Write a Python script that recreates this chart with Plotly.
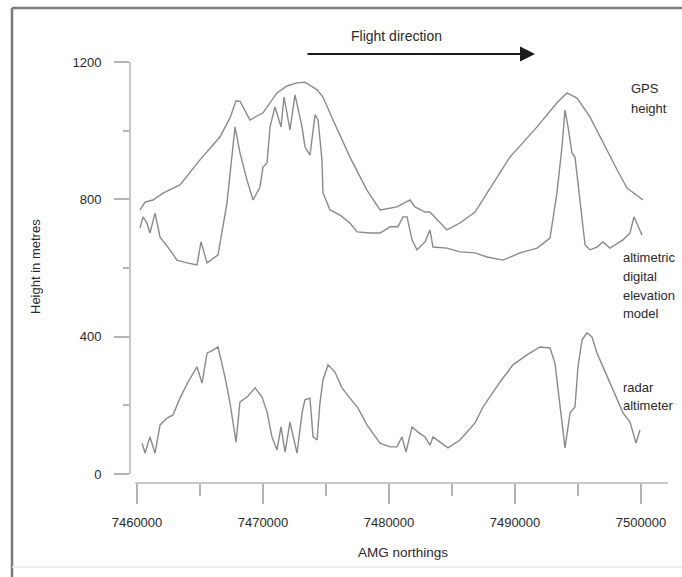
import plotly.graph_objects as go

# ---------------- data ----------------
gps_x = [7460240, 7460640, 7461270, 7462060, 7463410, 7465000, 7466590, 7467380,
         7467860, 7468180, 7468970, 7470000, 7471110, 7471900, 7472700, 7473330,
         7474290, 7474760, 7475560, 7476900, 7478250, 7479290, 7480630, 7481670,
         7482060, 7482860, 7483250, 7484600, 7485630, 7486830, 7487780, 7489600,
         7491750, 7493330, 7494130, 7494920, 7495950, 7496980, 7498100, 7498890,
         7500160]
gps_y = [769, 792, 798, 818, 842, 915, 982, 1037,
         1087, 1085, 1031, 1052, 1110, 1130, 1139, 1141,
         1119, 1098, 1031, 923, 827, 769, 778, 798,
         778, 763, 763, 711, 731, 763, 818, 923,
         1011, 1081, 1110, 1095, 1040, 964, 886, 833,
         798]

dem_x = [7460240, 7460480, 7460790, 7461030, 7461430, 7461830, 7462620, 7463170,
         7463970, 7464760, 7465080, 7465560, 7466430, 7467140, 7467780, 7468170,
         7468730, 7469210, 7469760, 7470000, 7470320, 7470560, 7470950, 7471430,
         7471670, 7472140, 7472540, 7473100, 7473330, 7473730, 7474130, 7474370,
         7474680, 7474760, 7475320, 7476110, 7476900, 7477460, 7478490, 7479290,
         7480080, 7480710, 7481110, 7481430, 7481830, 7482220, 7482860, 7483250,
         7483490, 7484600, 7485630, 7486830, 7487780, 7489050, 7490400, 7491750,
         7492780, 7493330, 7493730, 7493970, 7494210, 7494520, 7494760, 7495160,
         7495560, 7495950, 7496510, 7496980, 7497540, 7498570, 7499130, 7499440,
         7499760, 7500080]
dem_y = [717, 749, 731, 702, 760, 690, 653, 623,
         615, 609, 676, 615, 638, 789, 1011, 935,
         856, 798, 836, 894, 906, 1011, 1069, 1011,
         1098, 1002, 1104, 1011, 953, 929, 1046, 1031,
         915, 819, 769, 754, 731, 705, 702, 702,
         720, 720, 749, 749, 682, 653, 676, 711,
         661, 658, 647, 644, 632, 623, 644, 658,
         687, 819, 953, 1060, 1011, 935, 923, 789,
         667, 653, 661, 676, 658, 682, 702, 749,
         720, 696]

radar_x = [7460400, 7460640, 7461030, 7461430, 7461830, 7462380, 7462860, 7463410,
           7464050, 7464760, 7465160, 7465560, 7466030, 7466430, 7466980, 7467380,
           7467860, 7468170, 7468730, 7469370, 7469920, 7470320, 7470710, 7471110,
           7471430, 7471750, 7472140, 7472700, 7473100, 7473330, 7473730, 7473970,
           7474290, 7474520, 7474760, 7475160, 7475710, 7476270, 7476900, 7477540,
           7478250, 7479290, 7480080, 7480630, 7481030, 7481350, 7481830, 7482300,
           7482860, 7483250, 7483490, 7484050, 7484680, 7485630, 7486830, 7487460,
           7488810, 7489840, 7490950, 7491980, 7492780, 7493170, 7493570, 7493970,
           7494370, 7494760, 7495000, 7495320, 7495710, 7496110, 7496510, 7496980,
           7497780, 7498570, 7499130, 7499600, 7499920]
radar_y = [90, 61, 108, 61, 143, 163, 172, 221,
           268, 312, 265, 352, 361, 370, 283, 207,
           93, 210, 224, 251, 224, 181, 108, 70,
           137, 64, 151, 61, 178, 216, 221, 108,
           99, 207, 274, 318, 297, 251, 221, 192,
           143, 90, 79, 79, 108, 64, 137, 122,
           108, 84, 108, 93, 76, 99, 149, 195,
           268, 318, 347, 370, 367, 323, 195, 76,
           178, 195, 312, 390, 411, 399, 352, 312,
           245, 178, 151, 90, 128]

y_ticks = [0, 400, 800, 1200]
x_ticks = [7460000, 7470000, 7480000, 7490000, 7500000]

# ---------------- figure ----------------
LINE = "#8a8a8a"
AXIS = "#b4b4b4"
TEXT = "#2a2a2a"
FONT = "Liberation Sans, Arial, sans-serif"

fig = go.Figure()
for xs, ys in [(gps_x, gps_y), (dem_x, dem_y), (radar_x, radar_y)]:
    fig.add_trace(go.Scatter(x=xs, y=ys, mode="lines",
                             line=dict(color=LINE, width=1.4),
                             showlegend=False, hoverinfo="skip"))

X0, X1 = 7459444, 7502143
Y0, Y1 = -26.2, 1264

fig.update_layout(
    width=682, height=577,
    margin=dict(l=130, r=14, t=40, b=94),
    paper_bgcolor="white", plot_bgcolor="white",
    font=dict(family=FONT, size=13, color=TEXT),
    showlegend=False,
    xaxis=dict(range=[X0, X1], tickvals=x_ticks, tickformat="d",
               ticks="outside", ticklen=20, tickcolor=AXIS, tickwidth=1.5,
               minor=dict(ticks="outside", ticklen=12, tickcolor=AXIS,
                          tickwidth=1.5, dtick=5000, tick0=7460000),
               showline=False, showgrid=False, zeroline=False,
               ticklabelstandoff=7, tickfont=dict(size=13, color=TEXT)),
    yaxis=dict(range=[Y0, Y1], tickvals=y_ticks,
               ticks="outside", ticklen=15, tickcolor=AXIS, tickwidth=1.5,
               minor=dict(ticks="outside", ticklen=6, tickcolor=AXIS,
                          tickwidth=1.5, dtick=200, tick0=0),
               showline=False, showgrid=False, zeroline=False,
               ticklabelstandoff=10, tickfont=dict(size=13, color=TEXT)),
)

# detached axis lines
fig.add_shape(type="line", xref="paper", yref="y", x0=0, x1=0, y0=0, y1=1200,
              line=dict(color=AXIS, width=1.5))
fig.add_shape(type="line", xref="x", yref="paper", x0=7459850, x1=X1, y0=0, y1=0,
              line=dict(color=AXIS, width=1.5))

# outer frame of the figure
def px_x(p):
    return (p - 130) / 538.0

def px_y(p):
    return (483 - p) / 443.0

fig.add_shape(type="line", xref="paper", yref="paper",
              x0=px_x(12), x1=px_x(682), y0=px_y(8), y1=px_y(8),
              line=dict(color="#7a7a7a", width=2.5))
fig.add_shape(type="line", xref="paper", yref="paper",
              x0=px_x(12), x1=px_x(12), y0=px_y(8), y1=px_y(577),
              line=dict(color="#7a7a7a", width=2.5))
fig.add_shape(type="line", xref="paper", yref="paper",
              x0=px_x(12), x1=px_x(682), y0=px_y(567), y1=px_y(567),
              line=dict(color="#e6e6e6", width=1.5))

# flight direction arrow
fig.add_annotation(xref="paper", yref="paper", x=px_x(535), y=px_y(54),
                   ax=-229, ay=0, axref="pixel", ayref="pixel",
                   text="", showarrow=True, arrowhead=2, arrowsize=1.5,
                   arrowwidth=2, arrowcolor="#1a1a1a")

def label(text, xp, yp, **kw):
    fig.add_annotation(xref="paper", yref="paper", x=px_x(xp), y=px_y(yp),
                       text=text, showarrow=False, xanchor="left",
                       yanchor="middle", font=dict(size=13, color=TEXT), **kw)

fig.add_annotation(xref="paper", yref="paper", x=px_x(396), y=px_y(36),
                   text="Flight direction", showarrow=False,
                   xanchor="center", yanchor="middle",
                   font=dict(size=14, color=TEXT))
for t, yy in [("GPS", 88), ("height", 108)]:
    label(t, 629, yy)
for t, yy in [("altimetric", 257), ("digital", 276), ("elevation", 295), ("model", 313)]:
    label(t, 621, yy)
for t, yy in [("radar", 387), ("altimeter", 405)]:
    label(t, 621, yy)

fig.add_annotation(xref="paper", yref="paper", x=px_x(35), y=px_y(266),
                   text="Height in metres", textangle=-90, showarrow=False,
                   xanchor="center", yanchor="middle",
                   font=dict(size=13, color=TEXT))
fig.add_annotation(xref="paper", yref="paper", x=px_x(403), y=px_y(552),
                   text="AMG northings", showarrow=False,
                   xanchor="center", yanchor="middle",
                   font=dict(size=13.5, color=TEXT))

fig.write_html("out.html",
               config={"displayModeBar": False},
               post_script="document.body.style.margin='0';"
                           "document.body.style.overflow='hidden';")
